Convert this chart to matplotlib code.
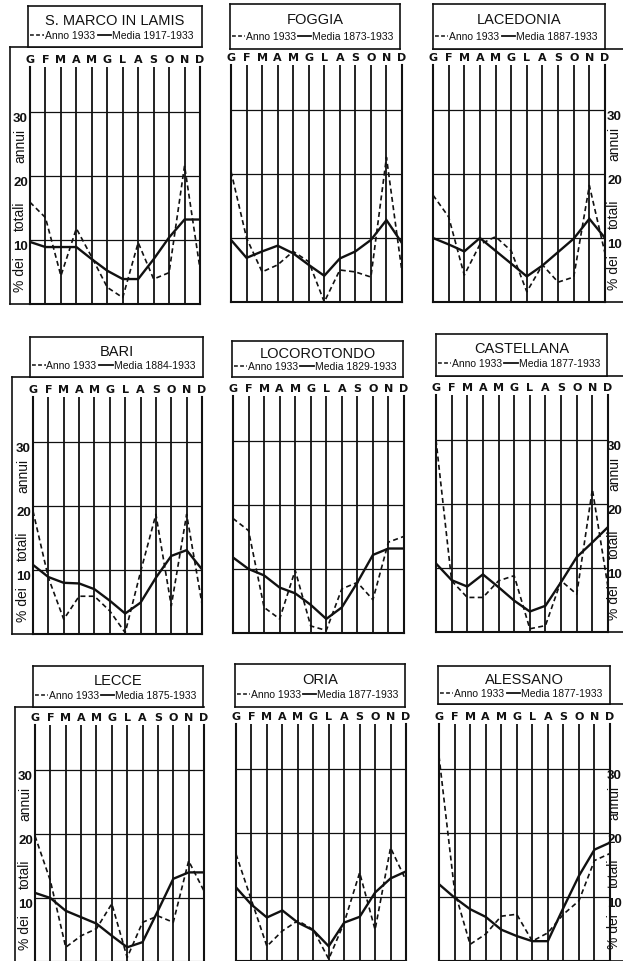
import matplotlib.pyplot as plt
from matplotlib.transforms import blended_transform_factory

months = ['G', 'F', 'M', 'A', 'M', 'G', 'L', 'A', 'S', 'O', 'N', 'D']

stations = ['S. MARCO IN LAMIS', 'FOGGIA', 'LACEDONIA',
            'BARI', 'LOCOROTONDO', 'CASTELLANA',
            'LECCE', 'ORIA', 'ALESSANO']
periods = ['1917-1933', '1873-1933', '1887-1933',
           '1884-1933', '1829-1933', '1877-1933',
           '1875-1933', '1877-1933', '1877-1933']

# % of yearly totals, "Anno 1933" (dashed) and "Media" (solid)
marco_anno = [15.9, 13.5, 4.4, 11.8, 7.3, 2.6, 1.0, 9.6, 3.9, 4.9, 21.6, 5.5]
marco_media = [9.7, 8.9, 8.9, 8.9, 7.0, 5.2, 3.9, 3.9, 7.0, 10.4, 13.2, 13.2]
foggia_anno = [20.4, 10.0, 4.7, 5.8, 7.9, 6.3, 0.0, 5.0, 4.7, 3.9, 22.6, 4.7]
foggia_media = [9.7, 6.9, 7.9, 8.8, 7.6, 5.8, 4.1, 6.8, 7.9, 9.7, 12.8, 9.2]
lacedonia_anno = [16.7, 13.3, 4.2, 9.0, 10.2, 8.0, 1.6, 5.8, 3.1, 3.9, 18.2, 7.6]
lacedonia_media = [10.0, 9.0, 7.9, 10.0, 8.0, 6.0, 4.0, 5.7, 7.8, 9.9, 13.0, 10.0]
bari_anno = [19.2, 8.8, 2.3, 5.9, 5.9, 3.6, 0.2, 9.7, 18.7, 4.4, 18.7, 4.7]
bari_media = [10.8, 8.9, 8.0, 7.9, 7.0, 5.2, 3.2, 4.9, 8.8, 12.2, 13.1, 10.1]
loco_anno = [17.9, 16.0, 4.0, 2.2, 9.8, 1.1, 0.4, 6.9, 7.9, 5.2, 14.2, 15.1]
loco_media = [11.8, 10.0, 9.0, 7.1, 6.2, 4.4, 2.2, 4.0, 7.9, 12.2, 13.2, 13.2]
cast_anno = [30.0, 8.0, 5.4, 5.4, 8.0, 8.8, 0.5, 1.0, 8.0, 5.9, 22.3, 7.0]
cast_media = [10.7, 8.1, 7.1, 9.0, 7.0, 4.9, 3.2, 4.1, 7.8, 11.7, 14.0, 16.4]
lecce_anno = [19.7, 12.7, 2.3, 4.1, 5.2, 9.1, 0.7, 6.2, 7.2, 6.2, 15.8, 11.1]
lecce_media = [10.8, 10.0, 8.0, 7.0, 6.0, 4.1, 2.3, 3.1, 8.0, 13.0, 14.0, 14.0]
oria_anno = [16.7, 9.5, 2.3, 4.7, 6.3, 4.9, 0.3, 6.0, 13.8, 4.9, 17.7, 12.6]
oria_media = [11.5, 8.8, 6.8, 7.9, 6.0, 4.8, 2.3, 6.0, 6.9, 10.7, 12.9, 14.0]
alessano_anno = [32.0, 11.0, 2.6, 4.2, 7.0, 7.3, 3.1, 4.4, 7.3, 9.4, 15.7, 16.8]
alessano_media = [12.0, 9.9, 8.1, 6.9, 4.9, 3.9, 3.1, 3.1, 8.3, 13.3, 17.4, 18.5]

anno = [marco_anno, foggia_anno, lacedonia_anno, bari_anno, loco_anno,
        cast_anno, lecce_anno, oria_anno, alessano_anno]
media = [marco_media, foggia_media, lacedonia_media, bari_media, loco_media,
         cast_media, lecce_media, oria_media, alessano_media]

yticks = [10, 20, 30]
label_parts = [('annui', 24.8), ('totali', 13.9), ('% dei', 4.7)]

# layout in pixels: plot left, plot right, y of zero line
plots = [(30, 200, 305), (231, 402, 303), (433, 605, 303),
         (33, 202, 635), (233, 404, 634), (436, 608, 633),
         (35, 204, 963), (236, 406, 962), (439, 610, 962)]
# title boxes: left, right, top, bottom
boxes = [(28, 202, 7, 48), (230, 400, 5, 50), (433, 605, 5, 50),
         (30, 203, 338, 378), (232, 403, 342, 378), (436, 607, 335, 377),
         (33, 203, 667, 708), (235, 405, 665, 708), (438, 610, 667, 705)]
frame_left = {0: 10, 3: 12, 6: 15}
label_x = {0: 20, 3: 23, 6: 25, 2: 614, 5: 614, 8: 614}
sides = ['left', None, 'right'] * 3

W, H = 623, 962
YMAX = 37
PX_PER_UNIT = 6.4
FONT = 'Liberation Sans'
INK = '#111111'

fig = plt.figure(figsize=(W / 100, H / 100), dpi=100)
fig.patch.set_facecolor('white')


def px_axes(x0, x1, ytop, ybot, **kw):
    return fig.add_axes([x0 / W, 1 - ybot / H, (x1 - x0) / W, (ybot - ytop) / H], **kw)


for i in range(9):
    x0, x1, yzero = plots[i]
    bx0, bx1, btop, bbot = boxes[i]
    side = sides[i]

    # outer frame around the label strip
    if side == 'left':
        fr = px_axes(frame_left[i], x1, bbot, yzero, zorder=0)
        fr.spines['right'].set_visible(False)
    elif side == 'right':
        fr = px_axes(x0, 640, bbot, yzero, zorder=0)
        fr.spines['left'].set_visible(False)
    if side is not None:
        fr.set_xticks([])
        fr.set_yticks([])
        fr.set_facecolor('none')
        for s in fr.spines.values():
            s.set_linewidth(1.2)
            s.set_color(INK)

    # plot area
    ax = px_axes(x0, x1, yzero - YMAX * PX_PER_UNIT, yzero, zorder=2)
    ax.set_facecolor('none')
    ax.plot(range(12), media[i], color=INK, lw=1.7, solid_joinstyle='miter')
    ax.plot(range(12), anno[i], color=INK, lw=1.2, ls=(0, (3, 2)))
    ax.set_xlim(0, 11)
    ax.set_ylim(0, YMAX)
    ax.set_xticks(range(12))
    ax.set_xticklabels(months, family='DejaVu Sans', fontsize=8, fontweight='bold')
    ax.xaxis.set_ticks_position('top')
    ax.tick_params(axis='x', length=0, pad=2, colors=INK)
    ax.set_yticks(yticks)
    ax.grid(True, axis='x', color=INK, lw=1.3)
    ax.grid(True, axis='y', color=INK, lw=0.9)
    ax.spines['top'].set_visible(False)
    for s in ['left', 'right', 'bottom']:
        ax.spines[s].set_linewidth(1.5)
        ax.spines[s].set_color(INK)

    if side is None:
        ax.tick_params(axis='y', length=0, labelleft=False)
    else:
        ax.set_yticklabels([str(v) for v in yticks], family=FONT,
                           fontsize=9.5, fontweight='bold', color=INK)
        if side == 'right':
            ax.yaxis.set_ticks_position('right')
            ax.tick_params(axis='y', length=0, pad=(622 - x1) * 0.72)
        else:
            ax.tick_params(axis='y', length=0, pad=1.5)
        for t in ax.get_yticklabels():
            t.set_va('top')
            t.set_ha('right')
        tr = blended_transform_factory(fig.transFigure, ax.transData)
        for txt, yv in label_parts:
            ax.text(label_x[i] / W, yv, txt, rotation=90, ha='center', va='center',
                    family=FONT, fontsize=10, color=INK,
                    transform=tr, clip_on=False)

    # title box with station name and legend
    bx = px_axes(bx0, bx1, btop, bbot, zorder=3)
    bx.set_xlim(0, 1)
    bx.set_ylim(0, 1)
    bx.set_xticks([])
    bx.set_yticks([])
    bx.set_facecolor('white')
    for s in bx.spines.values():
        s.set_linewidth(1.2)
        s.set_color(INK)
    bx.text(0.5, 0.66, stations[i], ha='center', va='center',
            family=FONT, fontsize=10.5, color=INK)
    bx.plot([0.012, 0.09], [0.3, 0.3], color=INK, lw=1.1, ls=(0, (2.5, 1.5)))
    bx.text(0.095, 0.3, 'Anno 1933', ha='left', va='center',
            family=FONT, fontsize=7.5, color=INK)
    bx.plot([0.40, 0.478], [0.3, 0.3], color=INK, lw=1.3)
    bx.text(0.483, 0.3, 'Media ' + periods[i], ha='left', va='center',
            family=FONT, fontsize=7.5, color=INK)

fig.savefig('out.png', dpi=100, facecolor='white')
